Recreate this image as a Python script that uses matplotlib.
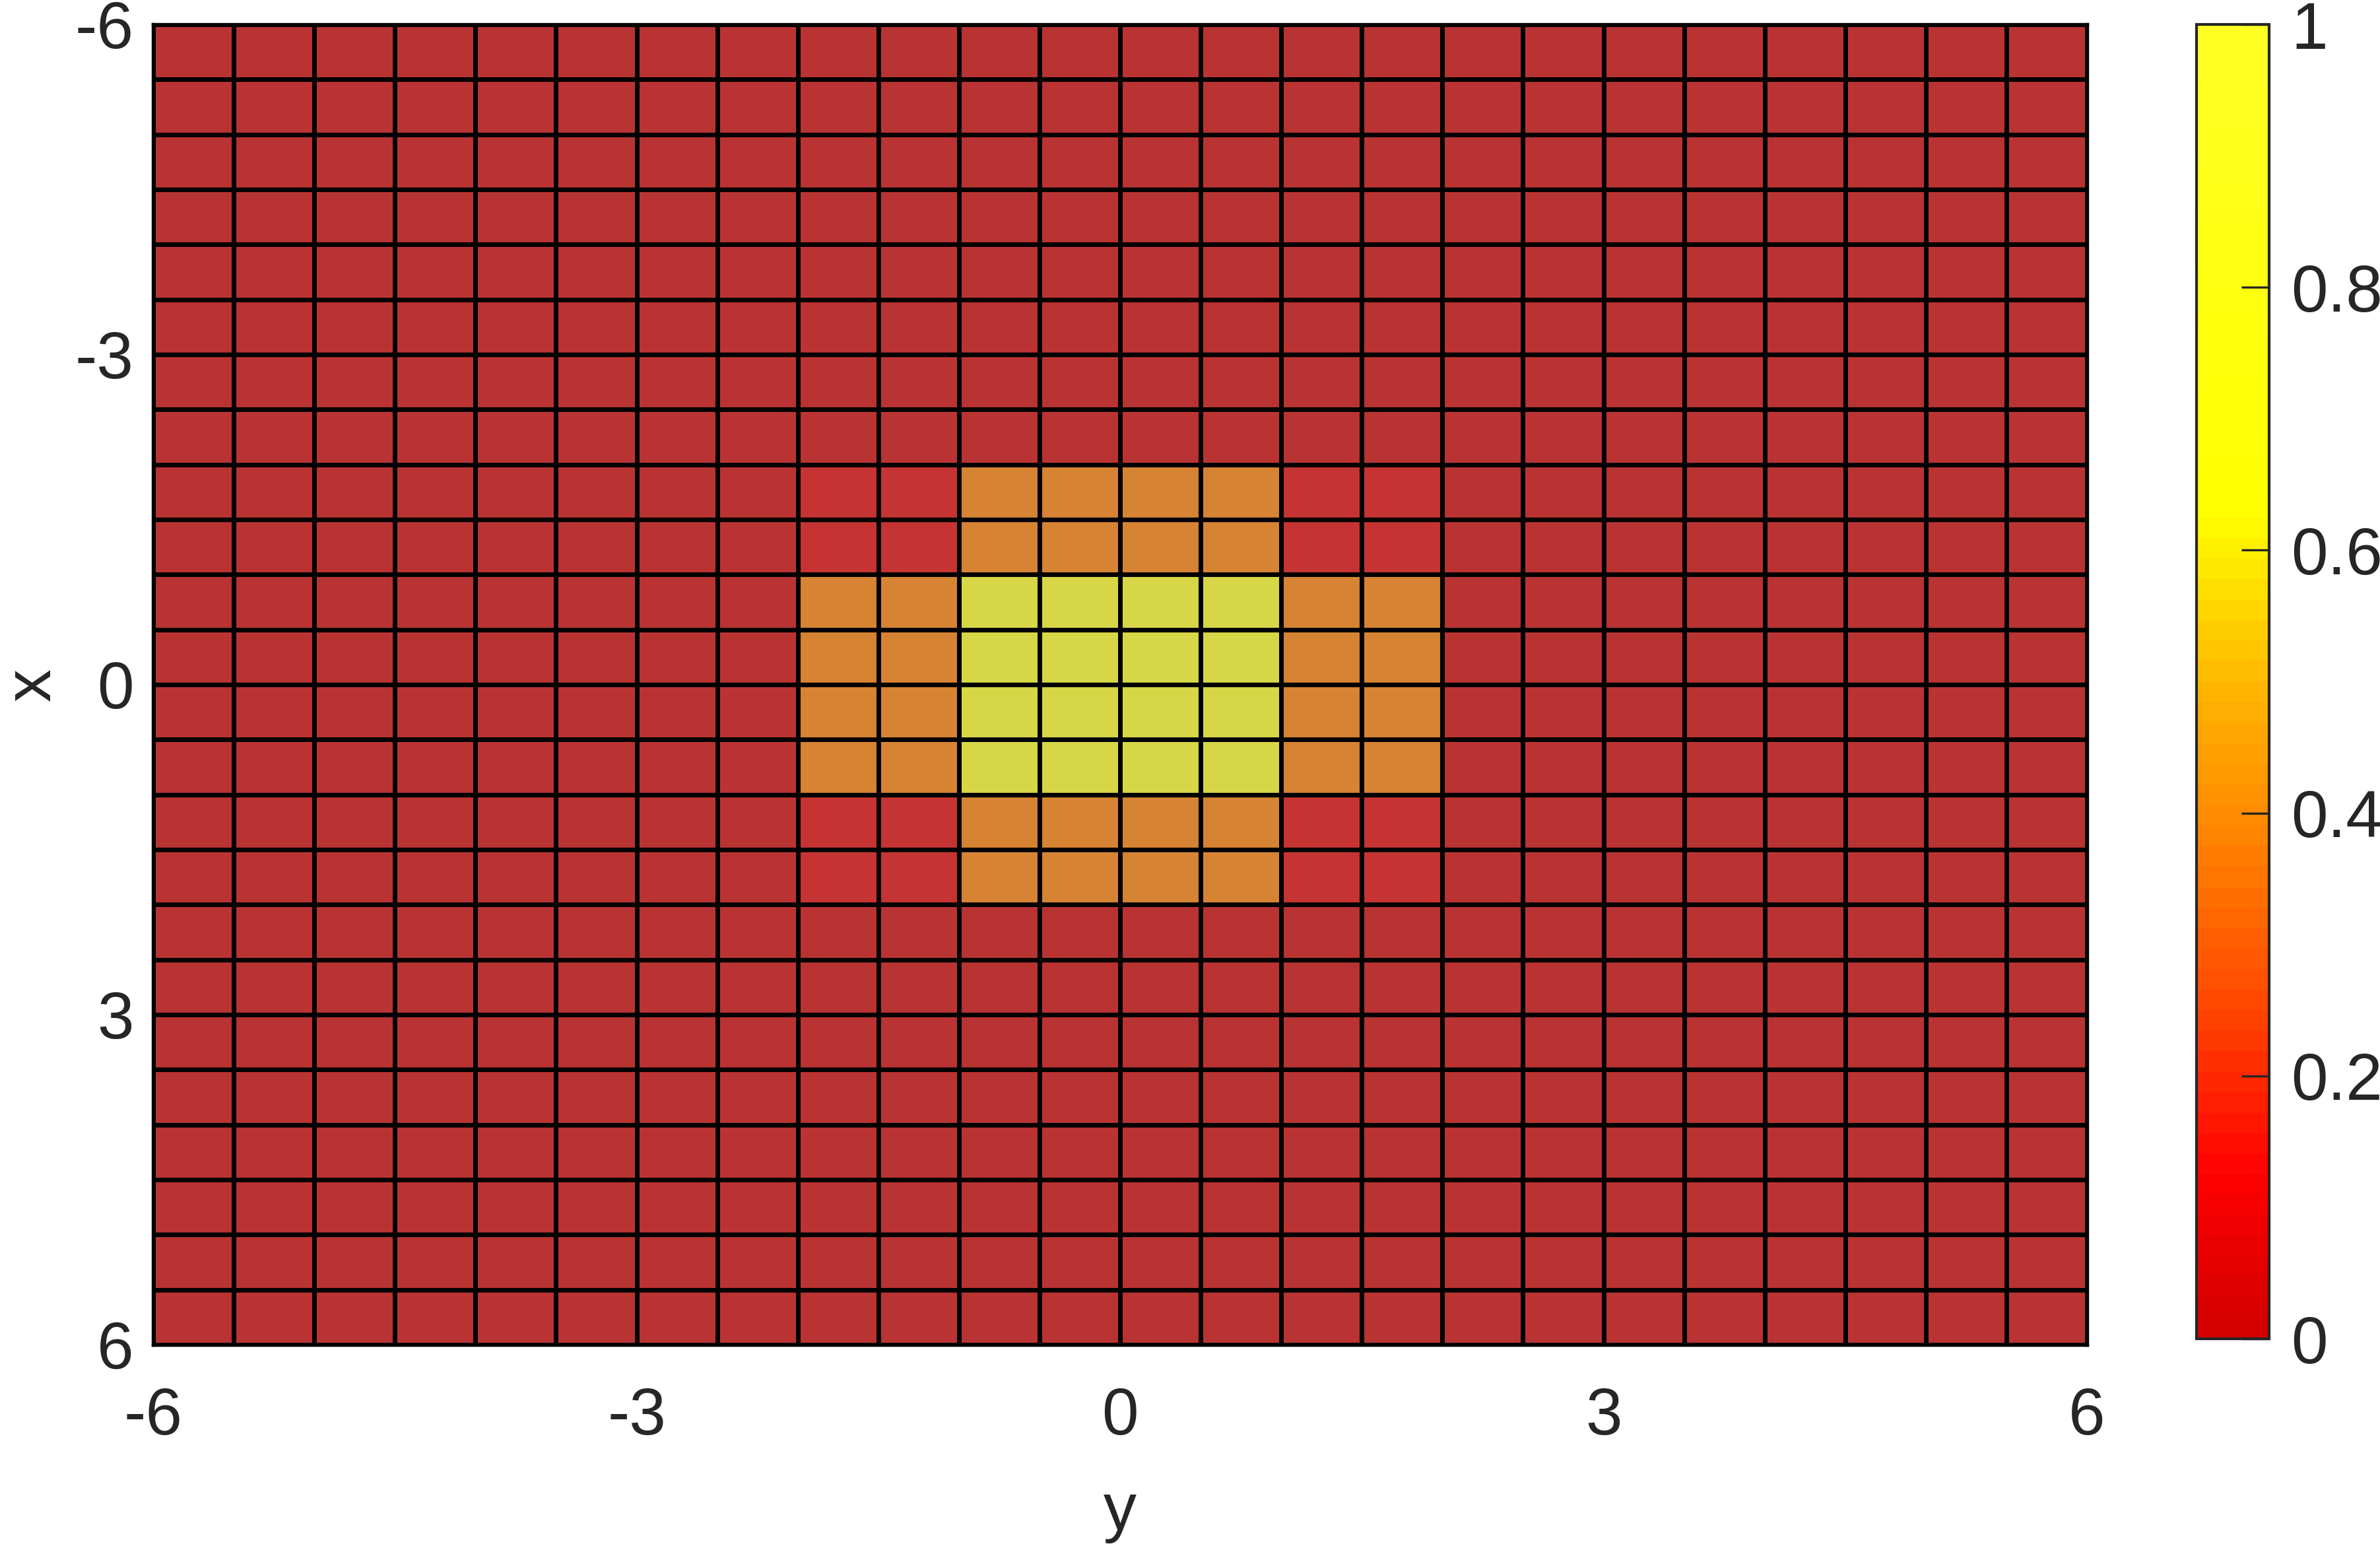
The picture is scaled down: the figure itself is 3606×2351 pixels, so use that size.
import numpy as np
import matplotlib
matplotlib.use('Agg')
import matplotlib.pyplot as plt
from matplotlib.colors import LinearSegmentedColormap, Normalize
import matplotlib.cm as cm

plt.rcParams['font.family'] = ['Liberation Sans', 'DejaVu Sans']
plt.rcParams['axes.unicode_minus'] = False

# grid edges (0.5 step) and the cell values
y_edges = np.arange(-6, 6.01, 0.5)
x_edges = np.arange(-6, 6.01, 0.5)
inner_val = 0.95   # |x|<1 and |y|<1
ring_val = 0.36    # one of |x|,|y| in (1,2), the other < 1
corner_val = 0.05  # both in (1,2)
bg_val = 0.0

yc = (y_edges[:-1] + y_edges[1:]) / 2
xc = (x_edges[:-1] + x_edges[1:]) / 2
YY, XX = np.meshgrid(yc, xc)
ay, ax_ = np.abs(YY), np.abs(XX)
Z = np.full(YY.shape, bg_val)
Z[(ay < 2) & (ax_ < 2)] = corner_val
Z[((ay < 1) & (ax_ < 2)) | ((ay < 2) & (ax_ < 1))] = ring_val
Z[(ay < 1) & (ax_ < 1)] = inner_val

# colormap like the colorbar (dark red -> red -> orange -> yellow)
nodes = [(0.0, (0.83, 0.0, 0.0)),
         (0.12, (1.0, 0.0, 0.0)),
         (0.25, (1.0, 0.28, 0.0)),
         (0.4, (1.0, 0.55, 0.0)),
         (0.5, (1.0, 0.72, 0.0)),
         (0.63, (1.0, 1.0, 0.0)),
         (1.0, (1.0, 1.0, 0.14))]
cmap = LinearSegmentedColormap.from_list('redyel', nodes, N=64)
# faces look shaded/washed, so draw them with a muted copy
shaded = [(p, tuple(0.64 * v + 0.2 for v in c)) for p, c in nodes]
cmap_face = LinearSegmentedColormap.from_list('redyel_shade', shaded, N=64)

fs = 24
fig = plt.figure(figsize=(3606 / 300, 2351 / 300), dpi=300)
ax = fig.add_axes([232 / 3606, 1 - 2037 / 2351, (3162 - 232) / 3606, (2037 - 37) / 2351])
ax.pcolormesh(y_edges, x_edges, Z, cmap=cmap_face, vmin=0, vmax=1,
              edgecolors='black', linewidth=1.3)
ax.set_xlim(-6, 6)
ax.set_ylim(6, -6)
ax.set_xticks([-6, -3, 0, 3, 6])
ax.set_yticks([-6, -3, 0, 3, 6])
ax.tick_params(length=0, labelsize=fs, colors='#262626')
ax.tick_params(axis='x', pad=15)
ax.tick_params(axis='y', pad=7)
for s in ax.spines.values():
    s.set_linewidth(1.3)
ax.set_xlabel('y', fontsize=fs, color='#262626', labelpad=12)
ax.set_ylabel('x', fontsize=fs, color='#262626', labelpad=4)

cax = fig.add_axes([3328 / 3606, 1 - 2028 / 2351, (3438 - 3328) / 3606, (2028 - 37) / 2351])
cb = fig.colorbar(cm.ScalarMappable(norm=Normalize(0, 1), cmap=cmap), cax=cax)
cb.set_ticks([0, 0.2, 0.4, 0.6, 0.8, 1])
cb.set_ticklabels(['0', '0.2', '0.4', '0.6', '0.8', '1'])
cax.tick_params(direction='in', length=10, width=0.8, labelsize=fs, colors='#262626', pad=8)
cb.outline.set_linewidth(1.0)
cb.outline.set_edgecolor('#262626')

fig.savefig('out.png', dpi=300)
